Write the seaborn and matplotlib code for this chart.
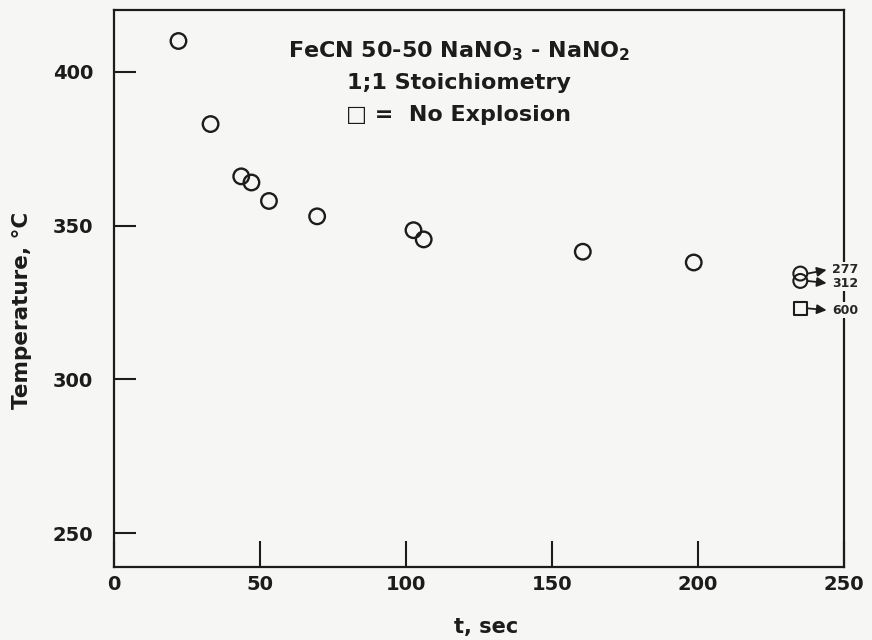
import numpy as np
import pandas as pd
import matplotlib
matplotlib.use('Agg')
import matplotlib.pyplot as plt
import seaborn as sns

# dados
tempo = [22, 33, 43.5, 47, 53, 69.5, 102.5, 106, 160.5, 198.5]
temperatura = [410, 383, 366, 364, 358, 353, 348.5, 345.5, 341.5, 338]

# pontos fora da escala (tempo real nos rotulos)
fora_temp = [334.4, 332.0, 323.1]
fora_rotulos = ['277', '312', '600']
fora_marcador = ['o', 'o', 's']
fora_rotulo_temp = [335.6, 331.3, 322.5]

xticks = [0, 50, 100, 150, 200, 250]
yticks = [250, 300, 350, 400]

sns.set_style('white')
plt.rcParams['font.family'] = ['DejaVu Sans']
plt.rcParams['font.weight'] = 'bold'
plt.rcParams['mathtext.fontset'] = 'custom'
plt.rcParams['mathtext.rm'] = 'DejaVu Sans:bold'
plt.rcParams['mathtext.default'] = 'rm'

cor = '#1c1c1c'
fundo = '#f6f6f4'
df = pd.DataFrame({'t': tempo, 'T': temperatura})

fig = plt.figure(figsize=(8.72, 6.4), dpi=100, facecolor=fundo)
ax = fig.add_axes([0.131, 0.114, 0.837, 0.870])
ax.set_facecolor(fundo)

sns.scatterplot(data=df, x='t', y='T', ax=ax, marker='o', s=125,
                facecolor='none', edgecolor=cor, linewidth=1.7, legend=False)

# pontos fora da escala, com setas e rotulos
for temp, rot, m, ty in zip(fora_temp, fora_rotulos, fora_marcador, fora_rotulo_temp):
    ax.scatter([235], [temp], marker=m, s=100 if m == 'o' else 95, facecolor='none',
               edgecolor=cor, linewidth=1.5, clip_on=False, zorder=5)
    ax.annotate('', xy=(244, ty), xytext=(237.5, temp), annotation_clip=False,
                arrowprops=dict(arrowstyle='-|>', color=cor, lw=1.3,
                                shrinkA=0, shrinkB=0, mutation_scale=14))
    ax.text(246, ty, rot, fontsize=9, fontweight='bold', va='center', ha='left',
            zorder=6, clip_on=False,
            bbox=dict(boxstyle='square,pad=0.1', fc=fundo, ec='none'))

ax.set_xlim(0, 250)
ax.set_ylim(239, 420)
ax.set_xticks(xticks)
ax.set_yticks(yticks)
ax.tick_params(bottom=True, left=True, top=False, right=False)
ax.tick_params(axis='x', direction='in', length=19, width=1.5, pad=6, labelsize=14, colors=cor)
ax.tick_params(axis='y', direction='in', length=16, width=1.5, pad=15, labelsize=14, colors=cor)
for lab in ax.get_xticklabels() + ax.get_yticklabels():
    lab.set_fontweight('bold')
for sp in ax.spines.values():
    sp.set_visible(True)
    sp.set_linewidth(1.6)
    sp.set_color(cor)

ax.set_ylabel('')
ax.set_xlabel('t, sec', fontsize=15, fontweight='bold', color=cor)
ax.xaxis.set_label_coords(0.51, -0.09)
fig.text(22 / 872, 1 - 310 / 640, 'Temperature, °C', rotation=90, ha='center',
         va='center', fontsize=15.5, fontweight='bold', color=cor)

ax.text(118, 406.7, 'FeCN 50-50 NaNO$_3$ - NaNO$_2$', ha='center', va='center',
        fontsize=16, fontweight='bold', color=cor)
ax.text(118, 396.3, '1;1 Stoichiometry', ha='center', va='center',
        fontsize=16, fontweight='bold', color=cor)
ax.text(118, 385.9, '□ =  No Explosion', ha='center', va='center',
        fontsize=16, fontweight='bold', color=cor)

fig.savefig('out.png', dpi=100, facecolor=fundo)
